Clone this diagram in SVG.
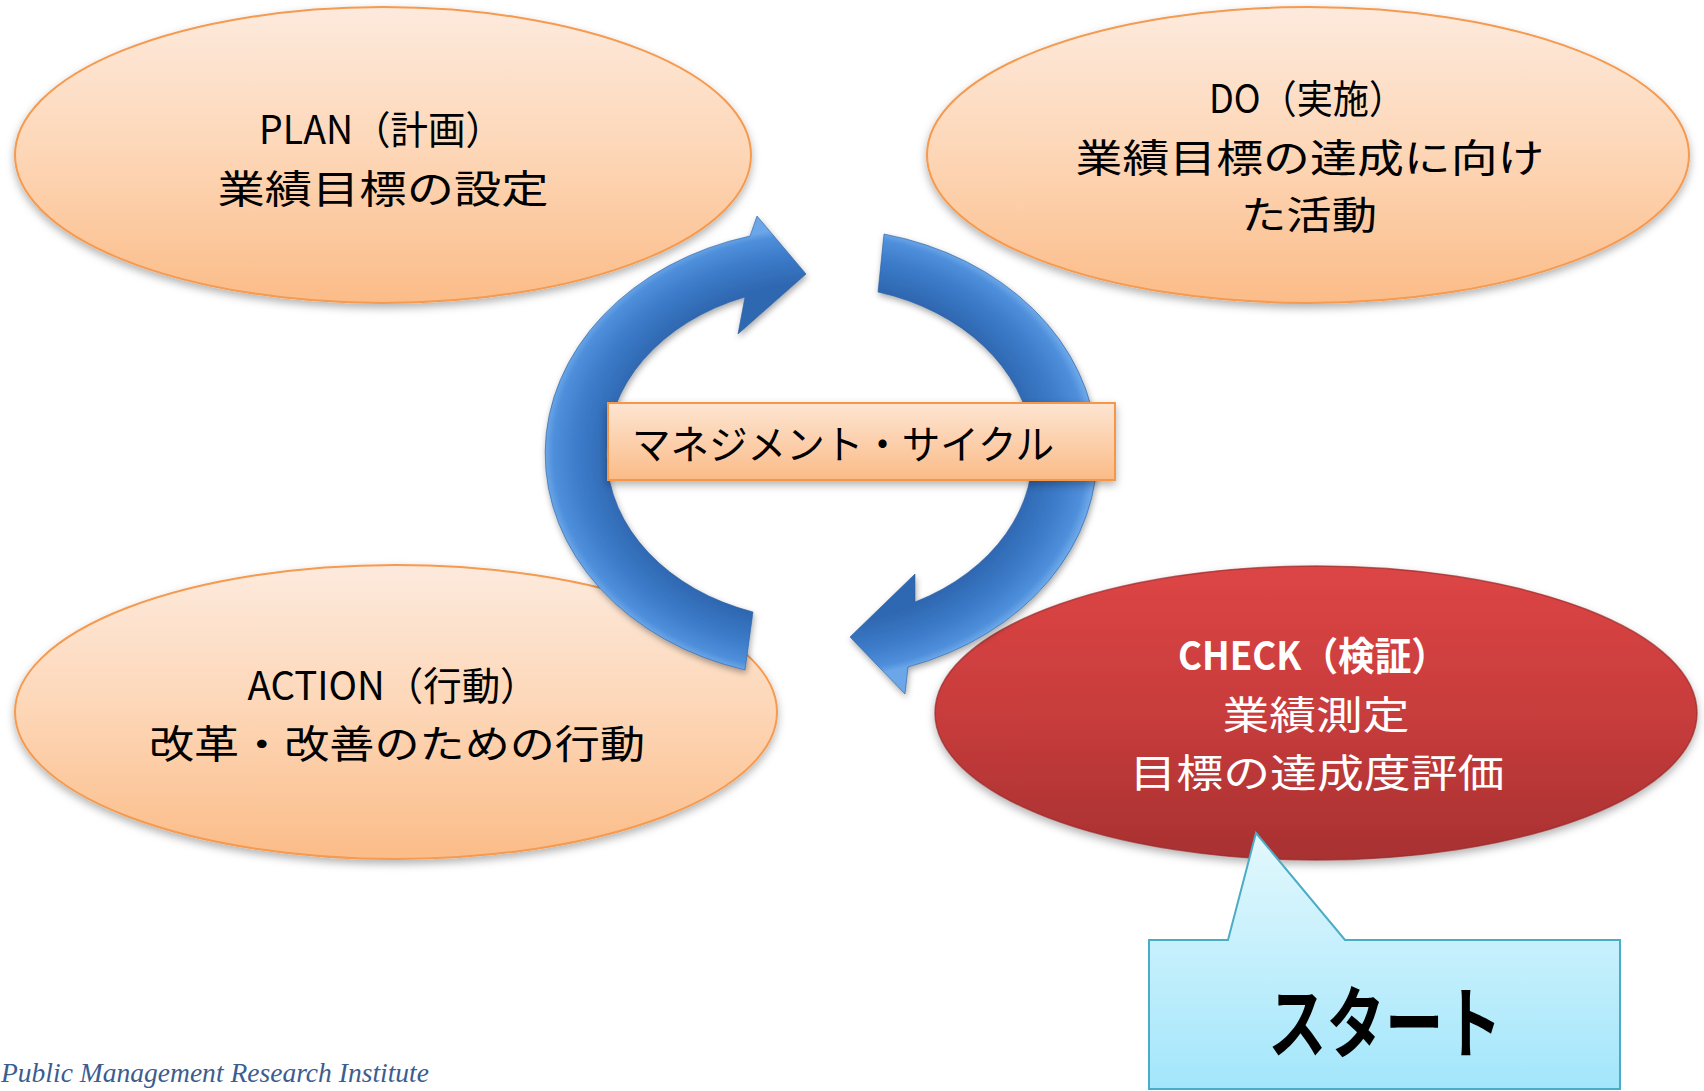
<svg xmlns="http://www.w3.org/2000/svg" width="1704" height="1091" viewBox="0 0 1704 1091">
<defs>
<linearGradient id="gPeach" x1="0" y1="0" x2="0" y2="1">
<stop offset="0" stop-color="#fdeadd"/>
<stop offset="0.5" stop-color="#fdd6b6"/>
<stop offset="1" stop-color="#fbbc88"/>
</linearGradient>
<linearGradient id="gRect" x1="0" y1="0" x2="0" y2="1">
<stop offset="0" stop-color="#fde5d2"/>
<stop offset="1" stop-color="#fbbb87"/>
</linearGradient>
<linearGradient id="gRed" x1="0" y1="0" x2="0" y2="1">
<stop offset="0" stop-color="#dd4545"/>
<stop offset="0.5" stop-color="#c83c3c"/>
<stop offset="1" stop-color="#a83131"/>
</linearGradient>
<linearGradient id="gBlue" x1="0" y1="0" x2="0" y2="1">
<stop offset="0" stop-color="#e3f8fd"/>
<stop offset="1" stop-color="#a3e6fb"/>
</linearGradient>
<radialGradient id="gArrow" gradientUnits="userSpaceOnUse" cx="820" cy="453" r="275" gradientTransform="translate(820 453) scale(1 0.82) translate(-820 -453)">
<stop offset="0" stop-color="#2c63ab"/>
<stop offset="0.76" stop-color="#2f68b2"/>
<stop offset="0.88" stop-color="#3c7bc9"/>
<stop offset="0.97" stop-color="#4f8fdb"/>
<stop offset="1" stop-color="#6aa6e8"/>
</radialGradient>
<filter id="shadow" x="-10%" y="-10%" width="120%" height="130%">
<feDropShadow dx="0" dy="4" stdDeviation="4" flood-color="#000" flood-opacity="0.3"/>
</filter>
<filter id="shadowArrow" x="-10%" y="-10%" width="120%" height="130%">
<feDropShadow dx="1" dy="3" stdDeviation="3" flood-color="#000" flood-opacity="0.35"/>
</filter>
<style>
.peach{fill:url(#gPeach);stroke:#f59a4f;stroke-width:2;filter:url(#shadow)}
.red{fill:url(#gRed);stroke:#9a2a2a;stroke-width:1.5;stroke-opacity:0.7;filter:url(#shadow)}
.arrow{fill:url(#gArrow);stroke:#2a5c9c;stroke-width:1;stroke-opacity:0.6;filter:url(#shadowArrow)}
.lbl{font-family:"Noto Sans CJK JP","Noto Sans",sans-serif;font-size:39px;fill:#000;text-anchor:middle}
.wlbl{font-family:"Noto Sans CJK JP","Noto Sans",sans-serif;font-size:39px;fill:#fff;text-anchor:middle}
</style>
</defs>
<rect width="1704" height="1091" fill="#fff"/>

<g id="node-plan">
<ellipse class="peach" cx="383" cy="155" rx="368" ry="148"/>
<text class="lbl" x="381" y="144" textLength="244" lengthAdjust="spacingAndGlyphs">PLAN（計画）</text>
<text class="lbl" x="383" y="203" textLength="331" lengthAdjust="spacingAndGlyphs">業績目標の設定</text>
</g>

<g id="node-do">
<ellipse class="peach" cx="1308" cy="155" rx="381" ry="148"/>
<text class="lbl" x="1307" y="113" textLength="196" lengthAdjust="spacingAndGlyphs">DO（実施）</text>
<text class="lbl" x="1310" y="172" textLength="469" lengthAdjust="spacingAndGlyphs">業績目標の達成に向け</text>
<text class="lbl" x="1309" y="229" textLength="136" lengthAdjust="spacingAndGlyphs">た活動</text>
</g>

<g id="node-action">
<ellipse class="peach" cx="396" cy="712" rx="381" ry="147"/>
<text class="lbl" x="393" y="700" textLength="291" lengthAdjust="spacingAndGlyphs">ACTION（行動）</text>
<text class="lbl" x="397" y="758" textLength="496" lengthAdjust="spacingAndGlyphs">改革・改善のための行動</text>
</g>

<g id="node-check">
<ellipse class="red" cx="1316" cy="713" rx="381" ry="147"/>
<text class="wlbl" x="1313" y="670" font-weight="bold" textLength="270" lengthAdjust="spacingAndGlyphs">CHECK（検証）</text>
<text class="wlbl" x="1316" y="729" textLength="187" lengthAdjust="spacingAndGlyphs">業績測定</text>
<text class="wlbl" x="1317" y="787" textLength="375" lengthAdjust="spacingAndGlyphs">目標の達成度評価</text>
</g>

<g id="connectors">
<path class="arrow" d="M 745 670 A 275 225 0 0 1 750 236 L 757 216 L 806 274 L 738 334 L 745 297 A 213 167 0 0 0 753 612 Z"/>
<path class="arrow" d="M 884 234 A 275 225 0 0 1 908 667 L 905 694 L 850 637 L 915 574 L 915 602 A 213 167 0 0 0 878 292 Z"/>
</g>

<g id="label-cycle">
<rect x="608" y="403" width="507" height="77" fill="url(#gRect)" stroke="#f79646" stroke-width="2" filter="url(#shadow)"/>
<text x="632" y="459" font-family="'Noto Sans CJK JP',sans-serif" font-size="40" fill="#000" textLength="422" lengthAdjust="spacingAndGlyphs">マネジメント・サイクル</text>
</g>

<g id="callout-start">
<path d="M 1149 940 L 1228 940 L 1256 833 L 1345 940 L 1620 940 L 1620 1089 L 1149 1089 Z" fill="url(#gBlue)" stroke="#4bacc6" stroke-width="2"/>
<text x="1385" y="1052" font-family="'Noto Sans CJK JP',sans-serif" font-size="78" font-weight="bold" fill="#000" text-anchor="middle" textLength="234" lengthAdjust="spacingAndGlyphs">スタート</text>
</g>

<g id="footer">
<text x="1" y="1082" font-family="'Liberation Serif',serif" font-style="italic" font-size="27" fill="#3b5d8f" textLength="428" lengthAdjust="spacingAndGlyphs">Public Management Research Institute</text>
</g>
</svg>
